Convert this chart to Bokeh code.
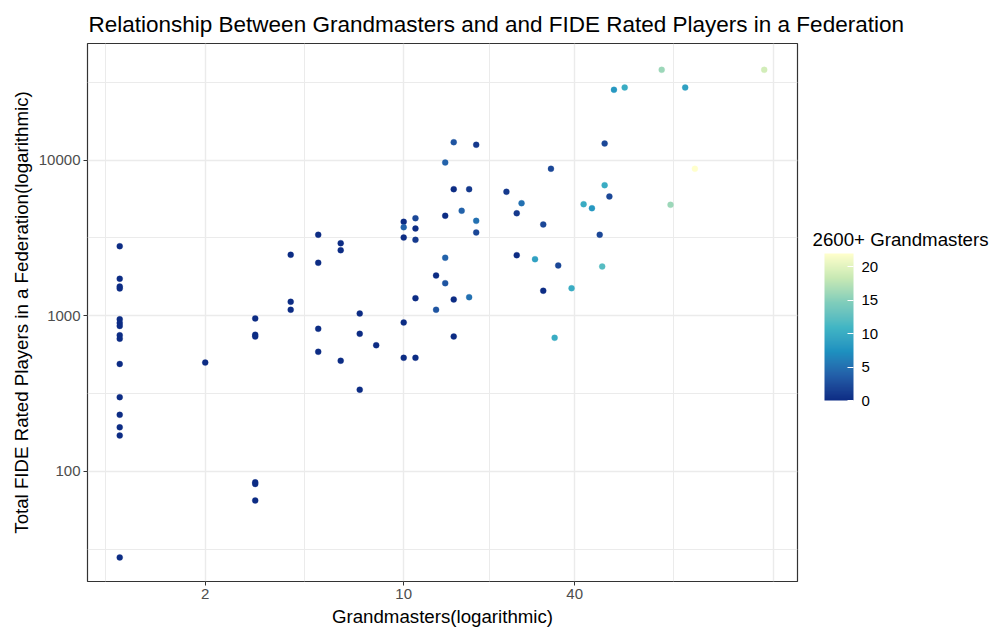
import numpy as np
from bokeh.plotting import figure
from bokeh.models import (ColumnDataSource, LinearColorMapper, ColorBar, FixedTicker,
                          NumeralTickFormatter, Range1d)
from bokeh.embed import file_html
from bokeh.resources import INLINE

# ---------------- data ----------------
grandmasters = [1, 1, 1, 1, 1, 1, 1, 1, 1, 1, 1, 1, 1, 1, 1,
                2,
                3, 3, 3, 3, 3, 3,
                4, 4, 4,
                5, 5, 5, 5,
                6, 6, 6,
                7, 7, 7,
                8,
                10, 10, 10, 10, 10,
                11, 11, 11, 11, 11,
                13, 13,
                14, 14, 14, 14,
                15, 15, 15, 15,
                16,
                17, 17,
                18, 18, 18,
                23,
                25, 25,
                26,
                29,
                31, 31,
                33,
                34,
                35,
                39,
                43,
                46,
                49,
                50,
                51, 51,
                53,
                55,
                60,
                81,
                87,
                98,
                106,
                186]

rated_players = [2800, 1730, 1540, 1500, 950, 900, 860, 750, 712, 490, 300, 231, 192, 170, 28,
                 500,
                 962, 755, 735, 85, 83, 65,
                 2466, 1230, 1093,
                 3316, 2191, 825, 587,
                 2928, 2640, 514,
                 1034, 766, 335,
                 647,
                 4018, 3709, 3185, 906, 537,
                 4237, 3638, 3077, 1298, 537,
                 1815, 1093,
                 9660, 4393, 2359, 1620,
                 13050, 6510, 1273, 736,
                 4730,
                 6510, 1317,
                 12560, 4074, 3431,
                 6266,
                 4560, 2452,
                 5293,
                 2311,
                 3863, 1448,
                 8805,
                 722,
                 2105,
                 1504,
                 5212,
                 4915,
                 3316,
                 2074,
                 6907, 12800,
                 5844,
                 28340,
                 29320,
                 38100,
                 5170,
                 29320,
                 8805,
                 38100]

gm_2600 = [0, 0, 0, 0, 0, 0, 0, 0, 0, 0, 0, 0, 0, 0, 0,
           0,
           0, 0, 0, 0, 0, 0,
           0, 0, 0,
           0, 0, 0, 0,
           0, 0, 0,
           0, 0, 0,
           0,
           0, 4, 0, 0, 0,
           2, 0, 1, 0, 0,
           0, 3,
           4, 0, 4, 3,
           3, 0, 0, 0,
           4,
           1, 5,
           1, 5, 2,
           1,
           1, 0,
           5,
           9,
           2, 0,
           2,
           10,
           2,
           10,
           10,
           8,
           2,
           12,
           10, 2,
           2,
           8,
           10,
           16,
           16,
           9,
           22,
           19]

x_ticks = [2, 10, 40]
y_ticks = [100, 1000, 10000]
x_grid_major = [2, 10, 40, 200]
x_grid_minor = [0.894, 4.47, 20, 89.4]
y_grid_major = [100, 1000, 10000]
y_grid_minor = [31.62, 316.2, 3162, 31623]
cbar_ticks = [0, 5, 10, 15, 20]

title_text = "Relationship Between Grandmasters and and FIDE Rated Players in a Federation"
x_title = "Grandmasters(logarithmic)"
y_title = "Total FIDE Rated Players in a Federation(logarithmic)"
legend_title = "2600+ Grandmasters"

# YlGnBu (7), dark -> light, interpolated in CIELAB like ggplot's distiller
stops = ["#0c2c84", "#225ea8", "#1d91c0", "#41b6c4", "#7fcdbb", "#c7e9b4", "#ffffcc"]


def _hex_to_rgb(h):
    h = h.lstrip("#")
    return np.array([int(h[i:i + 2], 16) / 255.0 for i in (0, 2, 4)])


def _srgb_to_lin(c):
    return np.where(c <= 0.04045, c / 12.92, ((c + 0.055) / 1.055) ** 2.4)


def _lin_to_srgb(c):
    c = np.clip(c, 0, 1)
    return np.where(c <= 0.0031308, 12.92 * c, 1.055 * c ** (1 / 2.4) - 0.055)


_M = np.array([[0.4124, 0.3576, 0.1805], [0.2126, 0.7152, 0.0722], [0.0193, 0.1192, 0.9505]])
_Mi = np.linalg.inv(_M)
_WP = np.array([0.95047, 1.0, 1.08883])


def _f(t):
    d = 6 / 29
    return np.where(t > d ** 3, np.cbrt(t), t / (3 * d * d) + 4 / 29)


def _fi(t):
    d = 6 / 29
    return np.where(t > d, t ** 3, 3 * d * d * (t - 4 / 29))


def to_lab(h):
    xyz = _M @ _srgb_to_lin(_hex_to_rgb(h)) / _WP
    fx, fy, fz = _f(xyz)
    return np.array([116 * fy - 16, 500 * (fx - fy), 200 * (fy - fz)])


def from_lab(lab):
    L, a, b = lab
    fy = (L + 16) / 116
    fx = fy + a / 500
    fz = fy - b / 200
    xyz = np.array([_fi(fx), _fi(fy), _fi(fz)]) * _WP
    rgb = _lin_to_srgb(_Mi @ xyz)
    return "#%02x%02x%02x" % tuple(int(round(v * 255)) for v in rgb)


labs = [to_lab(s) for s in stops]
palette = []
n = 256
for i in range(n):
    t = i / (n - 1) * (len(stops) - 1)
    k = min(int(t), len(stops) - 2)
    u = t - k
    palette.append(from_lab(labs[k] * (1 - u) + labs[k + 1] * u))

FONT = "Liberation Sans"

# ---------------- figure ----------------
p = figure(width=1001, height=630, x_axis_type="log", y_axis_type="log",
           x_range=Range1d(0.770, 243.6), y_range=Range1d(19.6, 56230),
           output_backend="svg", toolbar_location=None,
           min_border_left=87, min_border_right=204, min_border_top=43, min_border_bottom=49,
           title=title_text)

p.background_fill_color = "white"
p.border_fill_color = "white"
p.outline_line_color = "#333333"
p.outline_line_width = 1.2

p.title.text_font = FONT
p.title.text_font_size = "22.5px"
p.title.text_font_style = "normal"
p.title.text_color = "black"
p.title.align = "left"
p.title.offset = 1
p.title.standoff = 14

for ax, ticks, lab in ((p.xaxis[0], x_ticks, x_title), (p.yaxis[0], y_ticks, y_title)):
    ax.ticker = FixedTicker(ticks=ticks)
    ax.formatter = NumeralTickFormatter(format="0")
    ax.axis_label = lab
    ax.axis_label_text_font = FONT
    ax.axis_label_text_font_size = "18.7px"
    ax.axis_label_text_font_style = "normal"
    ax.axis_label_text_color = "black"
    ax.major_label_text_font = FONT
    ax.major_label_text_font_size = "15px"
    ax.major_label_text_color = "#4D4D4D"
    ax.axis_line_color = None
    ax.major_tick_line_color = "#333333"
    ax.major_tick_out = 4
    ax.major_tick_in = 0
    ax.minor_tick_line_color = None
    ax.major_label_standoff = 3
    ax.axis_label_standoff = 4

p.xgrid.ticker = FixedTicker(ticks=x_grid_major, minor_ticks=x_grid_minor)
p.ygrid.ticker = FixedTicker(ticks=y_grid_major, minor_ticks=y_grid_minor)
for g in (p.xgrid[0], p.ygrid[0]):
    g.grid_line_color = "#EBEBEB"
    g.grid_line_width = 1.4
    g.minor_grid_line_color = "#EBEBEB"
    g.minor_grid_line_width = 1.0

src = ColumnDataSource(dict(gm=grandmasters, players=rated_players, c=gm_2600))
mapper = LinearColorMapper(palette=palette, low=0, high=max(gm_2600))
p.scatter("gm", "players", source=src, size=6,
          fill_color={"field": "c", "transform": mapper},
          line_color={"field": "c", "transform": mapper}, line_width=0.3)

# colour bar (bar + tick labels)
cb = ColorBar(color_mapper=mapper, location=(737, 181), width=29, height=147,
              padding=0, margin=0, ticker=FixedTicker(ticks=cbar_ticks),
              formatter=NumeralTickFormatter(format="0"),
              major_label_text_font=FONT, major_label_text_font_size="15px",
              major_label_text_color="black", label_standoff=8,
              major_tick_line_color="white", major_tick_in=6, major_tick_out=0,
              minor_tick_line_color=None, bar_line_color=None, border_line_color=None,
              background_fill_alpha=0)
p.add_layout(cb, "center")

# legend title (carried by a transparent, flat horizontal colour bar just above the bar)
cb_title = ColorBar(color_mapper=mapper, orientation="horizontal", location=(725, 328),
                    width=29, height=1, padding=0, margin=0, ticker=FixedTicker(ticks=[]),
                    scale_alpha=0, major_tick_line_color=None, minor_tick_line_color=None,
                    bar_line_color=None, border_line_color=None, background_fill_alpha=0,
                    title=legend_title, title_standoff=6,
                    title_text_font=FONT, title_text_font_size="18.7px",
                    title_text_font_style="normal", title_text_color="black")
p.add_layout(cb_title, "center")

open("out.html", "w").write(file_html(p, INLINE))
